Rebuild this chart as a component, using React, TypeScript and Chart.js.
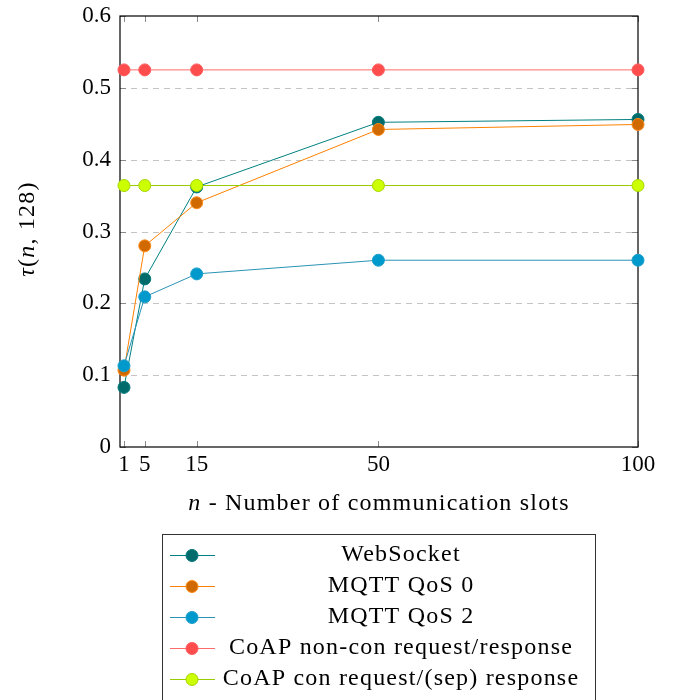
import React, { useEffect, useRef } from "react";
import { Chart, registerables } from "chart.js";

Chart.register(...registerables);

const slots = [1, 5, 15, 50, 100];
const webSocket = [0.083, 0.234, 0.362, 0.452, 0.456];
const mqttQos0 = [0.107, 0.28, 0.34, 0.442, 0.449];
const mqttQos2 = [0.113, 0.209, 0.241, 0.26, 0.26];
const coapNonCon = [0.525, 0.525, 0.525, 0.525, 0.525];
const coapCon = [0.364, 0.364, 0.364, 0.364, 0.364];
const seriesLabels = [
  "WebSocket",
  "MQTT QoS 0",
  "MQTT QoS 2",
  "CoAP non-con request/response",
  "CoAP con request/(sep) response",
];
const yTicks = [0, 0.1, 0.2, 0.3, 0.4, 0.5, 0.6];

const lineColors = ["#008080", "#ff8000", "#2a93b5", "#ff6b6b", "#99cc00"];
const markerFill = ["#006b6b", "#d06a00", "#0099cc", "#ff4d4d", "#ccff00"];
const markerBorder = ["#007a7a", "#ff8a1a", "#1a9fcc", "#ff5a5a", "#a6d400"];

const FONT = "'Liberation Serif', 'Times New Roman', serif";
const FS = 23;
const TFS = 24;
const LS = "1.2px";

type Seg = { t: string; i?: boolean };

function drawSegs(ctx: any, segs: Seg[], cx: number, cy: number) {
  let total = 0;
  ctx.letterSpacing = LS;
  const widths = segs.map((s) => {
    ctx.font = `${s.i ? "italic " : ""}${TFS}px ${FONT}`;
    const w = ctx.measureText(s.t).width;
    total += w;
    return w;
  });
  let x = cx - total / 2;
  ctx.textBaseline = "middle";
  ctx.textAlign = "left";
  segs.forEach((s, k) => {
    ctx.font = `${s.i ? "italic " : ""}${TFS}px ${FONT}`;
    ctx.fillText(s.t, x, cy);
    x += widths[k];
  });
  ctx.letterSpacing = "0px";
}

const framePlugin = {
  id: "pgfFrame",
  beforeDatasetsDraw(chart: any) {
    const { ctx, chartArea } = chart;
    const { left, right, top, bottom } = chartArea;
    const ys = chart.scales.y;
    const xs = chart.scales.x;
    ctx.save();
    ctx.strokeStyle = "#c4c4c4";
    ctx.lineWidth = 1;
    ctx.setLineDash([6, 5]);
    yTicks.forEach((v) => {
      if (v === 0 || v === 0.6) return;
      const y = Math.round(ys.getPixelForValue(v)) + 0.5;
      ctx.beginPath();
      ctx.moveTo(left, y);
      ctx.lineTo(right, y);
      ctx.stroke();
    });
    ctx.setLineDash([]);
    ctx.strokeStyle = "#8a8a8a";
    yTicks.forEach((v) => {
      const y = Math.round(ys.getPixelForValue(v)) + 0.5;
      ctx.beginPath();
      ctx.moveTo(left, y);
      ctx.lineTo(left + 6, y);
      ctx.moveTo(right, y);
      ctx.lineTo(right - 6, y);
      ctx.stroke();
    });
    slots.forEach((v) => {
      const x = Math.round(xs.getPixelForValue(v)) + 0.5;
      ctx.beginPath();
      ctx.moveTo(x, bottom);
      ctx.lineTo(x, bottom - 6);
      ctx.moveTo(x, top);
      ctx.lineTo(x, top + 6);
      ctx.stroke();
    });
    ctx.strokeStyle = "#000";
    ctx.lineWidth = 1.2;
    ctx.strokeRect(left, top, right - left, bottom - top);
    ctx.restore();
  },
  afterDraw(chart: any) {
    const { ctx, chartArea } = chart;
    ctx.save();
    ctx.fillStyle = "#000";
    drawSegs(
      ctx,
      [{ t: "n", i: true }, { t: " - Number of communication slots" }],
      (chartArea.left + chartArea.right) / 2,
      504
    );
    ctx.save();
    ctx.translate(28, 229);
    ctx.rotate(-Math.PI / 2);
    drawSegs(
      ctx,
      [{ t: "τ", i: true }, { t: "(" }, { t: "n", i: true }, { t: ", 128)" }],
      0,
      0
    );
    ctx.restore();
    const bx = 162, by = 534, bw = 433;
    ctx.fillStyle = "#fff";
    ctx.fillRect(bx, by, bw, 200);
    ctx.strokeStyle = "#333";
    ctx.lineWidth = 1;
    ctx.strokeRect(bx + 0.5, by + 0.5, bw, 200);
    seriesLabels.forEach((lab, i) => {
      const y = 555 + i * 31;
      ctx.strokeStyle = lineColors[i];
      ctx.lineWidth = 1;
      ctx.beginPath();
      ctx.moveTo(170, y + 0.5);
      ctx.lineTo(215, y + 0.5);
      ctx.stroke();
      ctx.beginPath();
      ctx.arc(192, y + 0.5, 6, 0, Math.PI * 2);
      ctx.fillStyle = markerFill[i];
      ctx.fill();
      ctx.strokeStyle = markerBorder[i];
      ctx.stroke();
      ctx.fillStyle = "#000";
      ctx.letterSpacing = LS;
      ctx.font = `${TFS}px ${FONT}`;
      ctx.textAlign = "center";
      ctx.textBaseline = "middle";
      ctx.fillText(lab, 401, y);
      ctx.letterSpacing = "0px";
    });
    ctx.restore();
  },
};

export default function App() {
  const ref = useRef<HTMLCanvasElement | null>(null);
  useEffect(() => {
    if (!ref.current) return;
    const series = [webSocket, mqttQos0, mqttQos2, coapNonCon, coapCon];
    const chart = new Chart(ref.current, {
      type: "line",
      data: {
        datasets: series.map((vals, i) => ({
          label: seriesLabels[i],
          data: slots.map((x, k) => ({ x, y: vals[k] })),
          borderColor: lineColors[i],
          backgroundColor: markerFill[i],
          borderWidth: 1,
          pointRadius: 6,
          pointHoverRadius: 6,
          pointBorderWidth: 1,
          pointBackgroundColor: markerFill[i],
          pointBorderColor: markerBorder[i],
          tension: 0,
          fill: false,
          clip: false,
          order: 4 - i,
        })),
      },
      options: {
        responsive: false,
        animation: false,
        events: [],
        layout: { padding: { left: 0, right: 35, top: 16, bottom: 173 } },
        plugins: {
          legend: { display: false },
          tooltip: { enabled: false },
          title: { display: false },
        },
        scales: {
          x: {
            type: "linear",
            min: 0.23,
            max: 100,
            grid: { display: false, drawTicks: false },
            border: { display: false },
            afterBuildTicks: (scale: any) => {
              scale.ticks = slots.map((v) => ({ value: v }));
            },
            afterFit: (scale: any) => {
              scale.height = 80;
              scale.paddingLeft = 0;
              scale.paddingRight = 0;
            },
            ticks: {
              autoSkip: false,
              maxRotation: 0,
              padding: 4,
              color: "#000",
              font: { family: FONT, size: FS },
              callback: (v: any) => String(v),
            },
          },
          y: {
            type: "linear",
            min: 0,
            max: 0.6,
            grid: { display: false, drawTicks: false },
            border: { display: false },
            afterBuildTicks: (scale: any) => {
              scale.ticks = yTicks.map((v) => ({ value: v }));
            },
            afterFit: (scale: any) => {
              scale.width = 120;
              scale.paddingTop = 0;
              scale.paddingBottom = 0;
            },
            ticks: {
              padding: 9,
              color: "#000",
              font: { family: FONT, size: FS },
              callback: (v: any) => String(Math.round(Number(v) * 10) / 10),
            },
          },
        },
      },
      plugins: [framePlugin],
    });
    return () => chart.destroy();
  }, []);
  return (
    <div style={{ position: "absolute", left: 0, top: 0, width: 673, height: 700, background: "#fff" }}>
      <canvas ref={ref} width={673} height={700} style={{ width: 673, height: 700, display: "block" }} />
    </div>
  );
}
